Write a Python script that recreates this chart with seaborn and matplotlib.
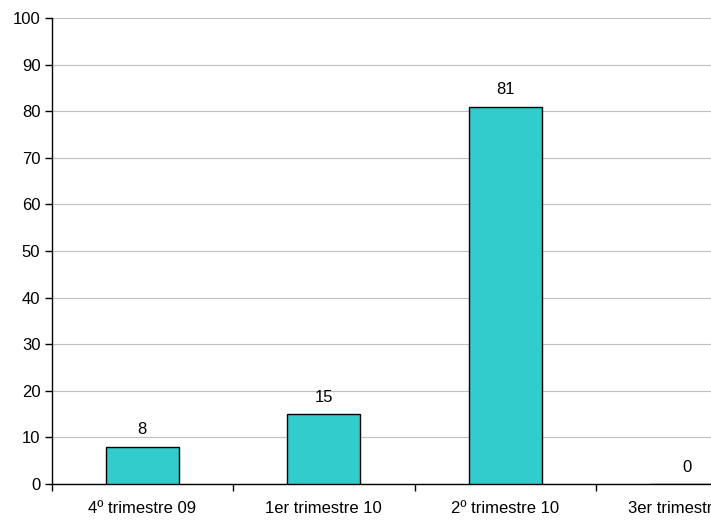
import matplotlib
matplotlib.use("Agg")
import matplotlib.pyplot as plt
import seaborn as sns
import pandas as pd
from matplotlib.ticker import FixedLocator, NullFormatter

categories = ["4º trimestre 09", "1er trimestre 10", "2º trimestre 10", "3er trimestre 10"]
values = [8, 15, 81, 0]
yticks = list(range(0, 101, 10))

sns.set_style("white")
plt.rcParams['font.family'] = ['Liberation Sans', 'DejaVu Sans']
plt.rcParams['text.color'] = 'black'
plt.rcParams['xtick.color'] = 'black'
plt.rcParams['ytick.color'] = 'black'

df = pd.DataFrame({"cat": categories, "val": values})

fig = plt.figure(figsize=(7.11, 5.2), dpi=100)
ax = fig.add_axes([51.5/711, 36/520, 726/711, 466/520])

sns.barplot(data=df, x="cat", y="val", ax=ax, color="#33CCCC", width=0.4,
            edgecolor="black", linewidth=1, saturation=1, zorder=3)

ax.set_xlim(-0.5, len(categories) - 0.5)
ax.set_ylim(0, 100)
ax.set_yticks(yticks)
ax.yaxis.grid(True, color="#C0C0C0", linewidth=0.8, zorder=0)
ax.set_axisbelow(True)
ax.set_xlabel("")
ax.set_ylabel("")

for s in ["top", "right"]:
    ax.spines[s].set_visible(False)
for s in ["left", "bottom"]:
    ax.spines[s].set_color("black")
    ax.spines[s].set_linewidth(1)

ax.tick_params(axis="y", which="major", length=5, width=1, color="black",
               labelsize=12, pad=3, left=True, direction="out", labelcolor="black")
ax.tick_params(axis="x", which="major", length=0, labelsize=12, pad=12.5, labelcolor="black")
ax.xaxis.set_minor_locator(FixedLocator([i - 0.5 for i in range(len(categories) + 1)]))
ax.xaxis.set_minor_formatter(NullFormatter())
ax.tick_params(axis="x", which="minor", length=5, width=1, color="black",
               bottom=True, direction="out")

for i, v in enumerate(values):
    ax.text(i, v + 2.0, str(v), ha="center", va="bottom", fontsize=12, color="black")

fig.savefig("out.png", dpi=100)
